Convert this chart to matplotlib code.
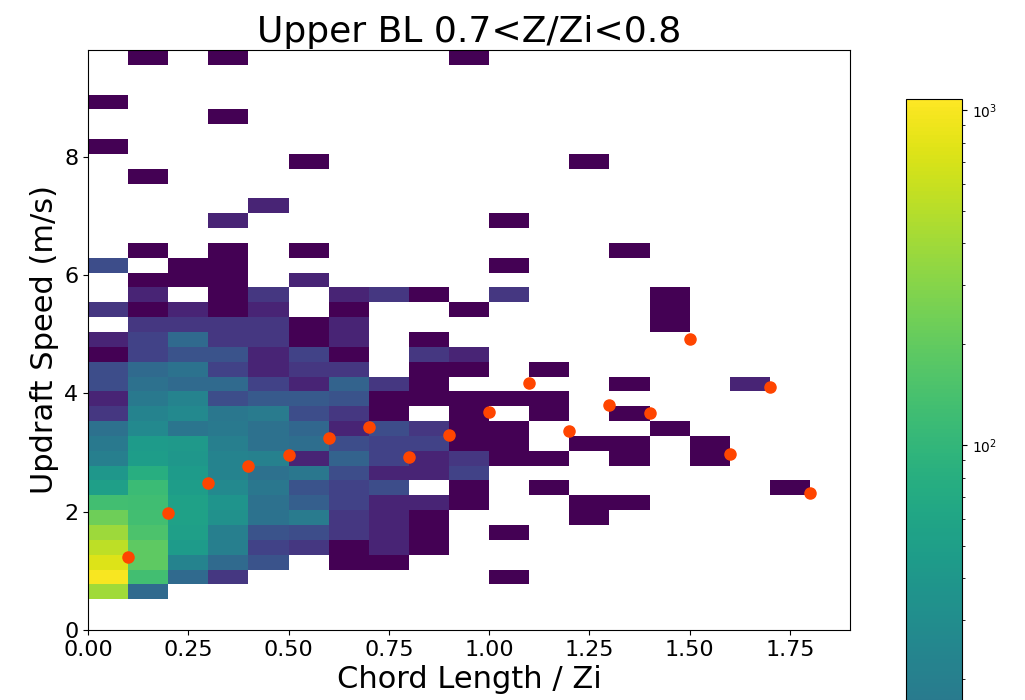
import numpy as np
import matplotlib
matplotlib.use("Agg")
import matplotlib.pyplot as plt
from matplotlib.colors import LogNorm

# bin edges of the 2d histogram
chord_edges = np.arange(0, 1.95, 0.1)
speed_edges = np.linspace(0.52, 9.8, 38)

# counts per bin, first row = lowest updraft speed bin, columns = chord bins
counts = np.array([
    [400, 11, 0, 0, 0, 0, 0, 0, 0, 0, 0, 0, 0, 0, 0, 0, 0, 0, 0],
    [1000, 130, 11, 3, 0, 0, 0, 0, 0, 0, 1, 0, 0, 0, 0, 0, 0, 0, 0],
    [750, 190, 23, 11, 6, 0, 1, 1, 0, 0, 0, 0, 0, 0, 0, 0, 0, 0, 0],
    [540, 190, 45, 20, 4, 3, 1, 2, 1, 0, 0, 0, 0, 0, 0, 0, 0, 0, 0],
    [390, 150, 50, 20, 6, 5, 3, 2, 1, 0, 1, 0, 0, 0, 0, 0, 0, 0, 0],
    [230, 130, 55, 33, 14, 18, 3, 2, 1, 0, 0, 0, 1, 0, 0, 0, 0, 0, 0],
    [130, 125, 55, 37, 13, 8, 4, 2, 2, 1, 0, 0, 1, 1, 0, 0, 0, 0, 0],
    [50, 115, 48, 27, 16, 6, 4, 5, 0, 1, 0, 1, 0, 0, 0, 0, 0, 1, 0],
    [40, 80, 45, 23, 13, 16, 5, 2, 2, 4, 0, 0, 0, 0, 0, 0, 0, 0, 0],
    [20, 48, 40, 23, 21, 2, 9, 4, 2, 3, 1, 1, 0, 1, 0, 1, 0, 0, 0],
    [17, 45, 42, 20, 13, 12, 5, 4, 4, 1, 1, 0, 1, 1, 0, 1, 0, 0, 0],
    [13, 27, 15, 17, 13, 10, 2, 5, 3, 1, 1, 0, 0, 0, 1, 0, 0, 0, 0],
    [3, 23, 27, 16, 18, 5, 3, 1, 0, 1, 0, 1, 0, 1, 0, 0, 0, 0, 0],
    [2, 17, 23, 5, 7, 7, 6, 1, 1, 1, 1, 1, 0, 0, 0, 0, 0, 0, 0],
    [5, 13, 11, 11, 4, 2, 9, 3, 1, 0, 0, 0, 0, 1, 0, 0, 2, 0, 0],
    [5, 11, 14, 4, 2, 3, 3, 0, 1, 1, 0, 1, 0, 0, 0, 0, 0, 0, 0],
    [1, 4, 6, 6, 2, 4, 1, 0, 3, 2, 0, 0, 0, 0, 0, 0, 0, 0, 0],
    [2, 4, 11, 3, 3, 1, 2, 0, 1, 0, 0, 0, 0, 0, 0, 0, 0, 0, 0],
    [0, 3, 3, 3, 3, 1, 2, 0, 0, 0, 0, 0, 0, 0, 1, 0, 0, 0, 0],
    [3, 1, 2, 1, 2, 0, 1, 0, 0, 1, 0, 0, 0, 0, 1, 0, 0, 0, 0],
    [0, 2, 0, 1, 3, 0, 2, 3, 1, 0, 3, 0, 0, 0, 1, 0, 0, 0, 0],
    [0, 1, 1, 1, 0, 2, 0, 0, 0, 0, 0, 0, 0, 0, 0, 0, 0, 0, 0],
    [5, 0, 1, 1, 0, 0, 0, 0, 0, 0, 1, 0, 0, 0, 0, 0, 0, 0, 0],
    [0, 1, 0, 1, 0, 1, 0, 0, 0, 0, 0, 0, 0, 1, 0, 0, 0, 0, 0],
    [0, 0, 0, 0, 0, 0, 0, 0, 0, 0, 0, 0, 0, 0, 0, 0, 0, 0, 0],
    [0, 0, 0, 2, 0, 0, 0, 0, 0, 0, 1, 0, 0, 0, 0, 0, 0, 0, 0],
    [0, 0, 0, 0, 2, 0, 0, 0, 0, 0, 0, 0, 0, 0, 0, 0, 0, 0, 0],
    [0, 0, 0, 0, 0, 0, 0, 0, 0, 0, 0, 0, 0, 0, 0, 0, 0, 0, 0],
    [0, 1, 0, 0, 0, 0, 0, 0, 0, 0, 0, 0, 0, 0, 0, 0, 0, 0, 0],
    [0, 0, 0, 0, 0, 1, 0, 0, 0, 0, 0, 0, 1, 0, 0, 0, 0, 0, 0],
    [1, 0, 0, 0, 0, 0, 0, 0, 0, 0, 0, 0, 0, 0, 0, 0, 0, 0, 0],
    [0, 0, 0, 0, 0, 0, 0, 0, 0, 0, 0, 0, 0, 0, 0, 0, 0, 0, 0],
    [0, 0, 0, 1, 0, 0, 0, 0, 0, 0, 0, 0, 0, 0, 0, 0, 0, 0, 0],
    [1, 0, 0, 0, 0, 0, 0, 0, 0, 0, 0, 0, 0, 0, 0, 0, 0, 0, 0],
    [0, 0, 0, 0, 0, 0, 0, 0, 0, 0, 0, 0, 0, 0, 0, 0, 0, 0, 0],
    [0, 0, 0, 0, 0, 0, 0, 0, 0, 0, 0, 0, 0, 0, 0, 0, 0, 0, 0],
    [0, 1, 0, 1, 0, 0, 0, 0, 0, 1, 0, 0, 0, 0, 0, 0, 0, 0, 0],
])

# mean updraft speed for each chord length bin
chord_mid = np.round(np.arange(0.1, 1.85, 0.1), 1)
mean_speed = [1.24, 1.98, 2.48, 2.77, 2.96, 3.25, 3.43, 2.93, 3.30,
              3.69, 4.17, 3.36, 3.80, 3.67, 4.91, 2.98, 4.10, 2.32]

fig = plt.figure(figsize=(10.25, 7), dpi=100)
ax = fig.add_axes([0.0859, 0.1, 0.7434, 0.8286])
# colorbar is taller than the plot and runs past the bottom edge
cax = fig.add_axes([0.884, -0.593, 0.0546, 1.451])

mesh = ax.pcolormesh(chord_edges, speed_edges, np.ma.masked_equal(counts, 0),
                     cmap="viridis", norm=LogNorm(vmin=1, vmax=1076))
ax.plot(chord_mid, mean_speed, "o", color="orangered", markersize=8)

ax.set_xlim(0, 1.9)
ax.set_ylim(0, 9.8)
ax.set_title("Upper BL 0.7<Z/Zi<0.8", fontsize=26)
ax.set_xlabel("Chord Length / Zi", fontsize=22)
ax.set_ylabel("Updraft Speed (m/s)", fontsize=22)
ax.tick_params(labelsize=16)

fig.colorbar(mesh, cax=cax)

fig.savefig("out.png", dpi=100)
